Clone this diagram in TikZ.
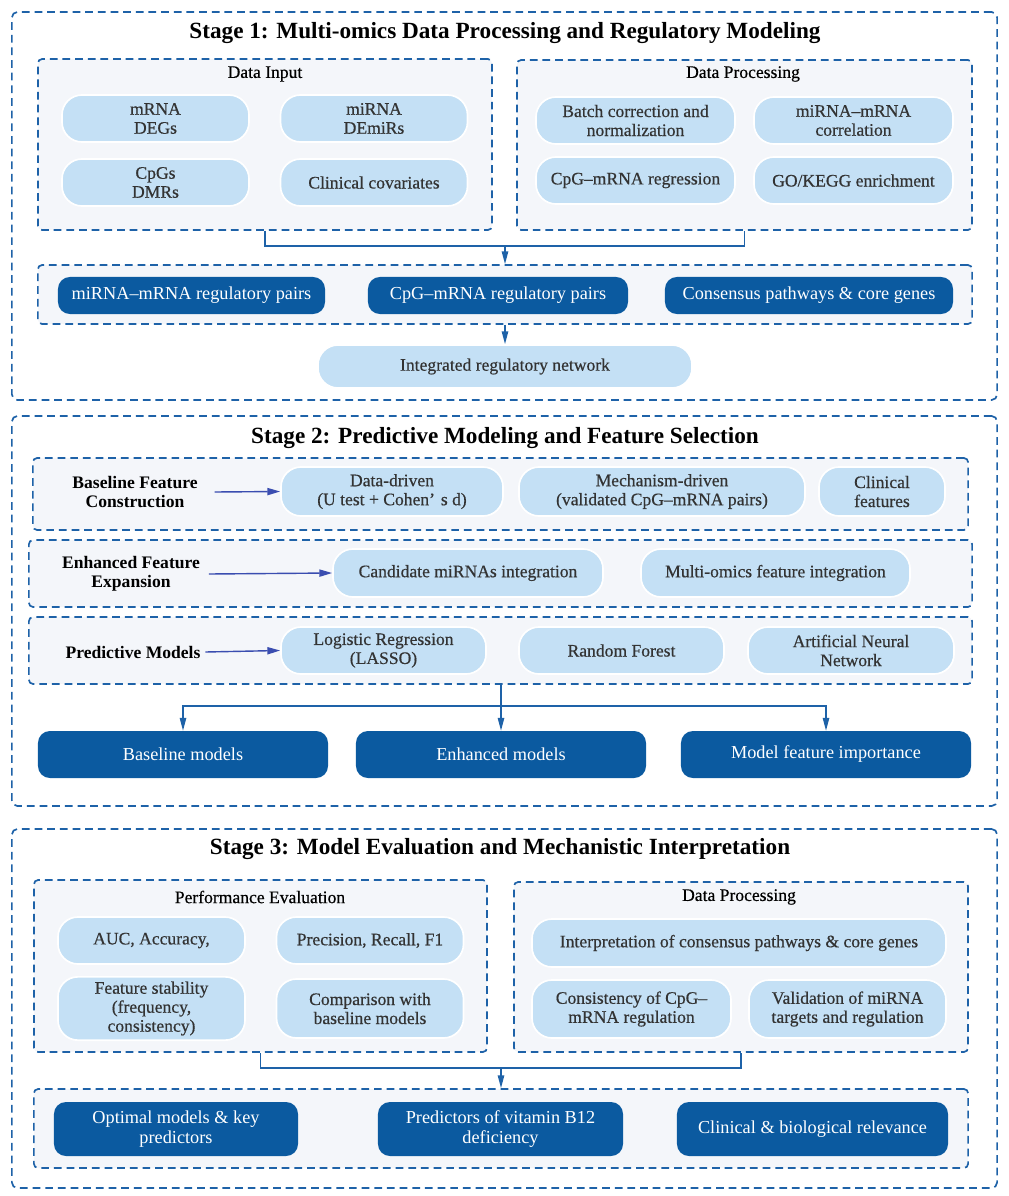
\documentclass[tikz,border=0pt]{standalone}
\usepackage{fontspec}
\setmainfont{Liberation Serif}
\newfontfamily\medserif{Liberation Serif}[FakeBold=0.5]
\usepackage{tikz}
\usetikzlibrary{arrows.meta,positioning,calc}
\definecolor{stageblue}{HTML}{1E62A8}
\definecolor{darkfill}{HTML}{0B5AA0}
\definecolor{lightfill}{HTML}{C4E0F5}
\definecolor{panelfill}{HTML}{F4F6FA}
\definecolor{textgray}{HTML}{333333}
\definecolor{featblue}{HTML}{3A4DB0}

\begin{document}
\begin{tikzpicture}[x=0.025cm, y=-0.025cm,
    every node/.style={font=\medserif\fontsize{12.5}{13.5}\selectfont, text=textgray, align=center},
    stagebox/.style={draw=stageblue, line width=1.2pt, dash pattern=on 5.5pt off 3.5pt, rounded corners=4pt},
    panel/.style={draw=stageblue, fill=panelfill, line width=1.2pt, dash pattern=on 5.5pt off 3.5pt, rounded corners=3pt},
    lightbox/.style={draw=white, line width=1.2pt, fill=lightfill, rounded corners=0.5cm},
    darkbox/.style={fill=darkfill, rounded corners=0.3cm, text=white, font=\fontsize{13}{14}\selectfont},
    stagetitle/.style={font=\fontsize{16.5}{19}\selectfont\bfseries, text=black},
    header/.style={font=\medserif\fontsize{12.5}{14}\selectfont, text=black},
    rowlabel/.style={font=\fontsize{12.5}{13.5}\selectfont\bfseries, text=black},
    conn/.style={stageblue, line width=1pt},
    arr/.style={stageblue, line width=1pt, -{Triangle[length=3.2mm, width=1.6mm]}},
    featarr/.style={featblue, line width=1pt, -{Triangle[length=3.2mm, width=1.8mm]}}]
\useasboundingbox (0,0) rectangle (1008,1196);

% ==== Stage 1 ====
\node[stagebox, minimum width=24.625cm, minimum height=9.7cm] (stage1) at (504.5,206) {};
\node[stagetitle] (title1) at (505,33) {Stage 1: Multi-omics Data Processing and Regulatory Modeling};

\node[panel, minimum width=11.35cm, minimum height=4.275cm] (din) at (265,144.5) {};
\node[header] (dinhead) at (265,74) {Data Input};
\node[lightbox, minimum width=4.675cm, minimum height=1.175cm] (mrna) at (155.5,118.5) {mRNA\\DEGs};
\node[lightbox, minimum width=4.675cm, minimum height=1.175cm] (mirna) at (374,118.5) {miRNA\\DEmiRs};
\node[lightbox, minimum width=4.675cm, minimum height=1.175cm] (cpgs) at (155.5,182.5) {CpGs\\DMRs};
\node[lightbox, minimum width=4.675cm, minimum height=1.175cm] (clincov) at (374,182.5) {Clinical covariates};

\node[panel, minimum width=11.375cm, minimum height=4.25cm] (dp1) at (744.5,145) {};
\node[header] (dp1head) at (743,74) {Data Processing};
\node[lightbox, minimum width=4.975cm, minimum height=1.175cm] (batch) at (635.5,120.5) {Batch correction and\\normalization};
\node[lightbox, minimum width=4.975cm, minimum height=1.175cm] (corr) at (853.5,120.5) {miRNA–mRNA\\correlation};
\node[lightbox, minimum width=4.975cm, minimum height=1.175cm] (regr) at (635.5,180.5) {CpG–mRNA regression};
\node[lightbox, minimum width=4.975cm, minimum height=1.175cm] (gokegg) at (853.5,180.5) {GO/KEGG enrichment};

\coordinate (j1) at (505,246);
\draw[conn] (din.south) |- (j1) -| (dp1.south);

\node[panel, minimum width=23.35cm, minimum height=1.475cm] (pairs) at (505,294.5) {};
\node[darkbox, minimum width=6.675cm, minimum height=0.925cm] (mipairs) at (191.5,295.5) {miRNA–mRNA regulatory pairs};
\node[darkbox, minimum width=6.5cm, minimum height=0.925cm] (cpgpairs) at (498,295.5) {CpG–mRNA regulatory pairs};
\node[darkbox, minimum width=7.2cm, minimum height=0.925cm] (consensus) at (809,295.5) {Consensus pathways \& core genes};
\draw[arr] (j1) -- (pairs.north);

\node[lightbox, minimum width=9.35cm, minimum height=1.075cm] (network) at (505,366.5) {Integrated regulatory network};
\draw[arr] (pairs.south) -- (network.north);

% ==== Stage 2 ====
\node[stagebox, minimum width=24.625cm, minimum height=9.75cm] (stage2) at (504.5,611) {};
\node[stagetitle] (title2) at (505,438) {Stage 2: Predictive Modeling and Feature Selection};

\node[panel, minimum width=23.375cm, minimum height=1.8cm] (basebox) at (500.5,494) {};
\node[rowlabel] (baselbl) at (135,492) {Baseline Feature\\Construction};
\node[lightbox, minimum width=5.55cm, minimum height=1.225cm] (datadriven) at (392,491.5) {Data-driven\\(U test + Cohen’\,\,s d)};
\node[lightbox, minimum width=7.15cm, minimum height=1.225cm] (mechdriven) at (662,491.5) {Mechanism-driven\\(validated CpG–mRNA pairs)};
\node[lightbox, minimum width=3.15cm, minimum height=1.225cm] (clinfeat) at (882,491.5) {Clinical\\features};
\draw[featarr] ([xshift=0.3cm]baselbl.east) -- (datadriven.west);

\node[panel, minimum width=23.575cm, minimum height=1.675cm] (enhbox) at (500.5,573.5) {};
\node[rowlabel] (enhlbl) at (131,574) {Enhanced Feature\\Expansion};
\node[lightbox, minimum width=6.75cm, minimum height=1.2cm] (candmir) at (468,573) {Candidate miRNAs integration};
\node[lightbox, minimum width=6.725cm, minimum height=1.2cm] (multiint) at (775.5,573) {Multi-omics feature integration};
\draw[featarr] ([xshift=0.1cm]enhlbl.east) -- (candmir.west);

\node[panel, minimum width=23.575cm, minimum height=1.675cm] (predbox) at (500.5,650.5) {};
\node[rowlabel] (predlbl) at (133,652) {Predictive Models};
\node[lightbox, minimum width=5.125cm, minimum height=1.175cm] (lasso) at (383.5,650.5) {Logistic Regression\\(LASSO)};
\node[lightbox, minimum width=5.125cm, minimum height=1.175cm] (rforest) at (621.5,650.5) {Random Forest};
\node[lightbox, minimum width=5.15cm, minimum height=1.175cm] (ann) at (851,650.5) {Artificial Neural\\Network};
\draw[featarr] (predlbl.east) -- (lasso.west);

\node[darkbox, minimum width=7.25cm, minimum height=1.175cm] (basemod) at (183,754.5) {Baseline models};
\node[darkbox, minimum width=7.25cm, minimum height=1.175cm] (enhmod) at (501,754.5) {Enhanced models};
\node[darkbox, minimum width=7.25cm, minimum height=1.175cm] (featimp) at (826,754.5) {Model feature importance};
\coordinate (j2) at (501,706);
\draw[arr] (predbox.south -| enhmod.north) -- (enhmod.north);
\draw[arr] (j2) -| (basemod.north);
\draw[arr] (j2) -| (featimp.north);

% ==== Stage 3 ====
\node[stagebox, minimum width=24.625cm, minimum height=8.975cm] (stage3) at (504.5,1008.5) {};
\node[stagetitle] (title3) at (500,849) {Stage 3: Model Evaluation and Mechanistic Interpretation};

\node[panel, minimum width=11.325cm, minimum height=4.3cm] (perf) at (260.5,966) {};
\node[header] (perfhead) at (260,897) {Performance Evaluation};
\node[lightbox, minimum width=4.675cm, minimum height=1.175cm] (auc) at (151.5,940.5) {AUC, Accuracy,};
\node[lightbox, minimum width=4.675cm, minimum height=1.175cm] (prec) at (370,940.5) {Precision, Recall, F1};
\node[lightbox, minimum width=4.675cm, minimum height=1.475cm] (stab) at (151.5,1008.5) {Feature stability\\(frequency,\\consistency)};
\node[lightbox, minimum width=4.675cm, minimum height=1.475cm] (compare) at (370,1008.5) {Comparison with\\baseline models};

\node[panel, minimum width=11.35cm, minimum height=4.25cm] (dp3) at (741,967) {};
\node[header] (dp3head) at (739,897) {Data Processing};
\node[lightbox, minimum width=10.35cm, minimum height=1.2cm] (interp) at (739,943) {Interpretation of consensus pathways \& core genes};
\node[lightbox, minimum width=4.975cm, minimum height=1.45cm] (consist) at (631.5,1009) {Consistency of CpG–\\mRNA regulation};
\node[lightbox, minimum width=4.925cm, minimum height=1.45cm] (valid) at (847.5,1009) {Validation of miRNA\\targets and regulation};

\coordinate (j3) at (501,1068);
\draw[conn] (perf.south) |- (j3) -| (dp3.south);

\node[panel, minimum width=23.35cm, minimum height=1.975cm] (results) at (501,1128.5) {};
\node[darkbox, minimum width=6.1cm, minimum height=1.35cm] (optimal) at (176,1129) {Optimal models \& key\\predictors};
\node[darkbox, minimum width=6.125cm, minimum height=1.35cm] (b12) at (500.5,1129) {Predictors of vitamin B12\\deficiency};
\node[darkbox, minimum width=6.775cm, minimum height=1.35cm] (relevance) at (812.5,1129) {Clinical \& biological relevance};
\draw[arr] (j3) -- (results.north);
\end{tikzpicture}
\end{document}
